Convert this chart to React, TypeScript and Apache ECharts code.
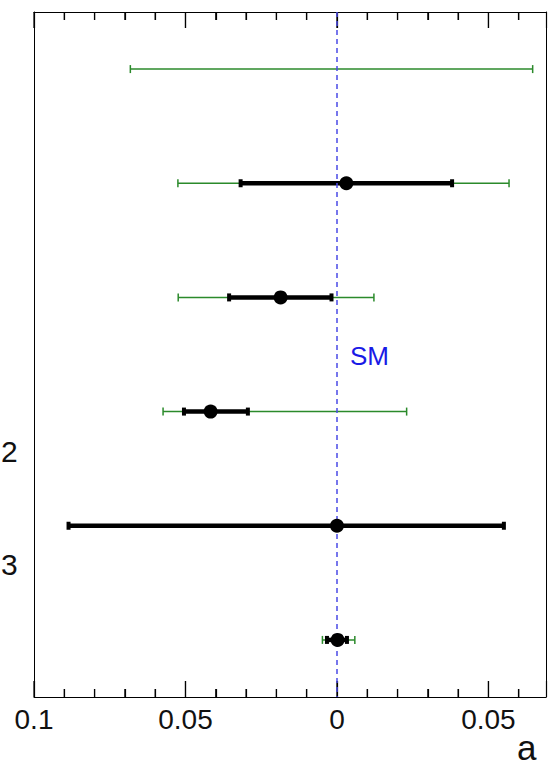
import React, { useEffect, useRef } from "react";
import * as echarts from "echarts";

const rows = ["r1", "r2", "r3", "r4", "r5", "r6"];
const centers: (number | null)[] = [null, 0.0031, -0.0186, -0.0417, 0.0, 0.0002];
const innerLow: (number | null)[] = [null, -0.0318, -0.0356, -0.0505, -0.0886, -0.0033];
const innerHigh: (number | null)[] = [null, 0.038, -0.0018, -0.0294, 0.0551, 0.0033];
const outerLow: (number | null)[] = [-0.0682, -0.0525, -0.0524, -0.0574, null, -0.0048];
const outerHigh: (number | null)[] = [0.0646, 0.0568, 0.0122, 0.023, null, 0.0059];
const majorTicks = [-0.1, -0.05, 0, 0.05];
const minorTicks = [-0.09, -0.08, -0.07, -0.06, -0.04, -0.03, -0.02, -0.01, 0.01, 0.02, 0.03, 0.04, 0.06];
const smValue = 0.0005;
const smLabel = "SM";
const xTitle = "a";
const sideLabels = ["2", "3"];

const GREEN = "#2b8a2b";

function makeBars(low: (number | null)[], high: (number | null)[]) {
  const out: number[][] = [];
  rows.forEach((_, i) => {
    if (low[i] != null && high[i] != null) out.push([low[i] as number, high[i] as number, i]);
  });
  return out;
}

function tickChildren(api: any) {
  const children: any[] = [];
  const style = { stroke: "#000", lineWidth: 1.2 };
  const add = (v: number, len: number) => {
    const a = api.coord([v, 0]);
    const b = api.coord([v, 1]);
    const z = api.coord([v, rows.length - 1]);
    const half = Math.abs(b[1] - a[1]) / 2;
    const x = a[0];
    const top = Math.min(a[1], z[1]) - half;
    const bottom = Math.max(a[1], z[1]) + half;
    children.push({ type: "line", shape: { x1: x, y1: top, x2: x, y2: top + len }, style });
    children.push({ type: "line", shape: { x1: x, y1: bottom, x2: x, y2: bottom - len }, style });
  };
  majorTicks.forEach((v) => add(v, 16));
  minorTicks.forEach((v) => add(v, 8));
  return children;
}

function barRenderer(color: string, width: number, capW: number, capH: number, capRect: boolean, withTicks: boolean) {
  return (params: any, api: any) => {
    const lo = api.value(0);
    const hi = api.value(1);
    const r = api.value(2);
    const p1 = api.coord([lo, r]);
    const p2 = api.coord([hi, r]);
    const children: any[] = [
      {
        type: "line",
        shape: { x1: p1[0], y1: p1[1], x2: p2[0], y2: p2[1] },
        style: { stroke: color, lineWidth: width },
      },
    ];
    [p1, p2].forEach((p) => {
      if (capRect) {
        children.push({
          type: "rect",
          shape: { x: p[0] - capW / 2, y: p[1] - capH / 2, width: capW, height: capH },
          style: { fill: color },
        });
      } else {
        children.push({
          type: "line",
          shape: { x1: p[0], y1: p[1] - capH / 2, x2: p[0], y2: p[1] + capH / 2 },
          style: { stroke: color, lineWidth: capW },
        });
      }
    });
    if (withTicks && params.dataIndex === 0) {
      tickChildren(api).forEach((c) => children.push(c));
    }
    return { type: "group", children };
  };
}

export default function App() {
  const ref = useRef<HTMLDivElement>(null);
  useEffect(() => {
    if (!ref.current) return;
    const chart = echarts.init(ref.current, null, { renderer: "svg" });
    const font = "'Liberation Sans', Arial, Helvetica, sans-serif";
    const commonX = {
      type: "value",
      min: -0.1,
      max: 0.069,
      interval: 0.05,
      splitLine: { show: false },
      axisLine: { show: true, onZero: false, lineStyle: { color: "#000", width: 1 } },
      axisTick: { show: true, inside: true, length: 16, lineStyle: { color: "#000", width: 1.2 } },
      minorTick: { show: true, splitNumber: 5, length: 8, lineStyle: { color: "#000", width: 1.2 } },
    };
    const commonY = {
      type: "category",
      data: rows,
      inverse: true,
      axisLabel: { show: false },
      axisLine: { show: true, onZero: false, lineStyle: { color: "#000", width: 1 } },
      axisTick: { show: false },
      splitLine: { show: false },
    };
    const points: number[][] = [];
    rows.forEach((_, i) => {
      if (centers[i] != null) points.push([centers[i] as number, i]);
    });
    chart.setOption({
      animation: false,
      grid: {
        left: 34,
        right: 5,
        top: 12,
        bottom: 74,
        show: false,
      },
      xAxis: [
        {
          ...commonX,
          position: "bottom",
          axisLabel: {
            show: true,
            color: "#111",
            fontSize: 28,
            fontFamily: font,
            margin: 8,
            formatter: (v: number) => String(Math.abs(Math.round(v * 1000) / 1000)),
          },
        },
        {
          ...commonX,
          position: "top",
          axisLabel: { show: false },
        },
      ],
      yAxis: [
        { ...commonY, position: "left" },
        { ...commonY, position: "right" },
      ],
      series: [
        {
          type: "line",
          data: [],
          markLine: {
            silent: true,
            symbol: "none",
            label: { show: false },
            lineStyle: { color: "#4a4ae6", type: [5, 4], width: 1.5 },
            data: [{ xAxis: smValue }],
          },
        },
        {
          type: "custom",
          renderItem: barRenderer(GREEN, 1.5, 1.5, 8, false, true),
          data: makeBars(outerLow, outerHigh),
          encode: { x: [0, 1], y: 2 },
          z: 3,
        },
        {
          type: "custom",
          renderItem: barRenderer("#000", 4.5, 4, 8, true, false),
          data: makeBars(innerLow, innerHigh),
          encode: { x: [0, 1], y: 2 },
          z: 4,
        },
        {
          type: "scatter",
          data: points,
          symbol: "circle",
          symbolSize: 14,
          itemStyle: { color: "#000", opacity: 1 },
          z: 5,
        },
      ],
      graphic: [
        {
          type: "text",
          left: 350,
          top: 343,
          style: { text: smLabel, fill: "#1a1ae6", fontSize: 26, fontFamily: font },
        },
        {
          type: "text",
          left: 517,
          top: 730,
          style: { text: xTitle, fill: "#111", fontSize: 35, fontFamily: font },
        },
        {
          type: "text",
          left: 1,
          top: 436,
          style: { text: sideLabels[0], fill: "#111", fontSize: 30, fontFamily: font },
        },
        {
          type: "text",
          left: 1,
          top: 549,
          style: { text: sideLabels[1], fill: "#111", fontSize: 30, fontFamily: font },
        },
      ],
    });
    return () => chart.dispose();
  }, []);
  return <div ref={ref} style={{ width: 551, height: 771, position: "absolute", left: 0, top: 0 }} />;
}
